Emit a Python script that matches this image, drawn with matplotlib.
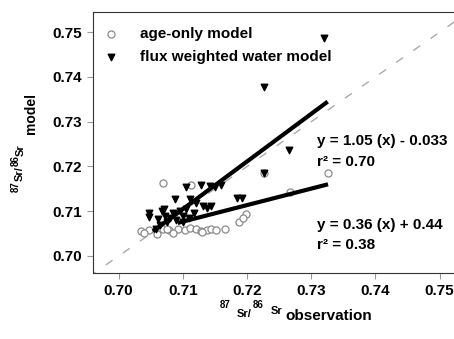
import numpy as np
import matplotlib
matplotlib.use("Agg")
import matplotlib.pyplot as plt

plt.rcParams["font.family"] = ["Liberation Sans", "DejaVu Sans"]
plt.rcParams["font.weight"] = "bold"

# age-only model points
age_x = [0.7326, 0.7267, 0.7226, 0.7069, 0.7112, 0.7199, 0.7188, 0.7193,
         0.7035, 0.7048, 0.7059, 0.7069, 0.7079, 0.7092, 0.7103, 0.7111,
         0.7121, 0.7129, 0.7137, 0.7144, 0.7152, 0.7165,
         0.7040, 0.7060, 0.7085, 0.7130, 0.7075]
age_y = [0.7186, 0.7142, 0.7185, 0.7163, 0.7159, 0.7094, 0.7077, 0.7085,
         0.7056, 0.7058, 0.7055, 0.7060, 0.7057, 0.7061, 0.7058, 0.7062,
         0.7060, 0.7056, 0.7059, 0.7061, 0.7058, 0.7060,
         0.7052, 0.7050, 0.7052, 0.7053, 0.7060]

# flux weighted water model points
flux_x = [0.7320, 0.7227, 0.7266, 0.7226, 0.7185, 0.7192, 0.7105, 0.7129,
          0.7142, 0.7150, 0.7160, 0.7087, 0.7111, 0.7121, 0.7131, 0.7137,
          0.7144, 0.7047, 0.7047, 0.7062, 0.7068, 0.7072, 0.7075, 0.7080,
          0.7085, 0.7090, 0.7095, 0.7100, 0.7105, 0.7110, 0.7065, 0.7058,
          0.7070, 0.7118, 0.7100]
flux_y = [0.7488, 0.7377, 0.7236, 0.7185, 0.7129, 0.7129, 0.7154, 0.7159,
          0.7156, 0.7153, 0.7158, 0.7127, 0.7127, 0.7118, 0.7112, 0.7108,
          0.7112, 0.7095, 0.7088, 0.7082, 0.7100, 0.7090, 0.7075, 0.7085,
          0.7095, 0.7080, 0.7100, 0.7090, 0.7105, 0.7085, 0.7070, 0.7060,
          0.7105, 0.7095, 0.7075]

# regression line end points
fit_flux_x = [0.7056, 0.7323]
fit_flux_y = [0.7058, 0.7342]
fit_age_x = [0.7095, 0.7323]
fit_age_y = [0.7075, 0.7159]

ticks = [0.70, 0.71, 0.72, 0.73, 0.74, 0.75]

W, H = 454, 339
fig = plt.figure(figsize=(W / 100, H / 100), dpi=100)
ax = fig.add_axes([0.2048, 0.1947, 0.8626, 0.7699])

# 1:1 line
ax.plot([0.69, 0.76], [0.69, 0.76], color="#aaaaaa", lw=1,
        dashes=(6, 9), zorder=1)

ax.scatter(age_x, age_y, s=26, facecolors="white", edgecolors="#8a8a8a",
           linewidths=0.9, zorder=2, label="age-only model")
ax.scatter(flux_x, flux_y, s=22, marker="v", color="black", zorder=3,
           label="flux weighted water model")

ax.plot(fit_flux_x, fit_flux_y, color="black", lw=3, zorder=4)
ax.plot(fit_age_x, fit_age_y, color="black", lw=3, zorder=4)

ax.text(0.7309, 0.7256, "y = 1.05 (x) - 0.033", fontsize=11, va="center")
ax.text(0.7309, 0.7211, "r² = 0.70", fontsize=11, va="center")
ax.text(0.7309, 0.7069, "y = 0.36 (x) + 0.44", fontsize=11, va="center")
ax.text(0.7309, 0.7025, "r² = 0.38", fontsize=11, va="center")

ax.set_xlim(0.696, 0.757)
ax.set_ylim(0.6962, 0.7545)
ax.set_xticks(ticks)
ax.set_yticks(ticks)
ax.set_xticklabels([f"{t:.2f}" for t in ticks])
ax.set_yticklabels([f"{t:.2f}" for t in ticks])
ax.tick_params(length=4, color="#999999", labelsize=11, pad=4)

for s in ax.spines.values():
    s.set_color("#333333")
    s.set_linewidth(0.8)

# axis titles built from pieces (super/subscripts)
xlab = [("87", 220, 308, 7), ("Sr/", 237, 317, 8), ("86", 253, 308, 7),
        ("Sr", 271, 314, 8), ("observation", 285, 320, 11)]
for txt, px, py, fs in xlab:
    fig.text(px / W, 1 - py / H, txt, fontsize=fs, ha="left", va="baseline")

ylab = [("87", 16, 192, 7), ("Sr/", 20, 181, 8), ("86", 16, 166, 7),
        ("Sr", 21, 156, 8), ("model", 31, 134, 10)]
for txt, px, py, fs in ylab:
    fig.text(px / W, 1 - py / H, txt, fontsize=fs, rotation=90,
             ha="center", va="bottom")

ax.legend(loc="upper left", bbox_to_anchor=(0.0255, 0.942), frameon=False,
          fontsize=11, handlelength=1.0, handletextpad=1.42, borderpad=0,
          borderaxespad=0, labelspacing=0.55, scatterpoints=1)

plt.savefig("out.png", dpi=100)
plt.close()
